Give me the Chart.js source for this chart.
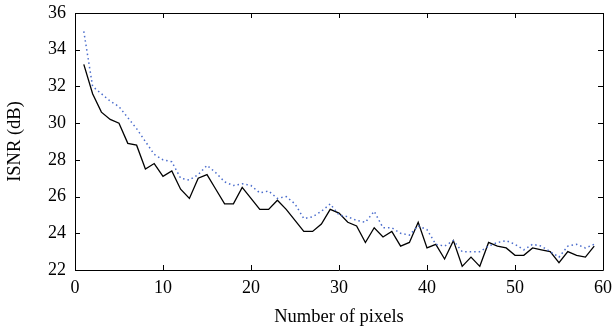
<!DOCTYPE html>
<html><head><meta charset="utf-8">
<script src="https://cdn.jsdelivr.net/npm/chart.js@4/dist/chart.umd.min.js"></script>
<style>html,body{margin:0;padding:0;background:#fff;}canvas{display:block;}</style>
</head><body>
<canvas id="c" width="616" height="332"></canvas>
<script>
const xValues = [1,2,3,4,5,6,7,8,9,10,11,12,13,14,15,16,17,18,19,20,21,22,23,24,25,26,27,28,29,30,31,32,33,34,35,36,37,38,39,40,41,42,43,44,45,46,47,48,49,50,51,52,53,54,55,56,57,58,59];
const solidSeries = [33.2,31.6,30.6,30.2,30.0,28.9,28.8,27.5,27.8,27.1,27.4,26.4,25.9,27.0,27.2,26.4,25.6,25.6,26.5,25.9,25.3,25.3,25.8,25.3,24.7,24.1,24.1,24.5,25.3,25.1,24.6,24.4,23.5,24.3,23.8,24.1,23.3,23.5,24.6,23.2,23.4,22.6,23.6,22.2,22.7,22.2,23.5,23.3,23.2,22.8,22.8,23.2,23.1,23.0,22.4,23.0,22.8,22.7,23.3];
const dottedSeries = [35.0,32.0,31.6,31.2,30.9,30.3,29.7,29.0,28.3,28.0,27.9,27.0,26.9,27.2,27.7,27.3,26.8,26.6,26.7,26.6,26.2,26.3,25.9,26.0,25.6,24.8,24.9,25.2,25.6,25.0,24.9,24.7,24.6,25.2,24.3,24.3,24.0,23.9,24.4,24.2,23.4,23.3,23.6,23.0,23.0,23.0,23.3,23.5,23.6,23.4,23.1,23.4,23.3,23.0,22.7,23.3,23.4,23.2,23.4];
const xTicks = [0,10,20,30,40,50,60];
const yTicks = [22,24,26,28,30,32,34,36];
const xTitle = "Number of pixels";
const yTitle = "ISNR (dB)";

const FONT = "'Liberation Serif', 'DejaVu Serif', serif";

const boxTicks = {
  id: 'boxTicks',
  afterDraw(chart) {
    const {ctx, chartArea: a, scales: {x, y}} = chart;
    ctx.save();
    ctx.strokeStyle = '#000';
    ctx.lineWidth = 1;
    ctx.beginPath();
    ctx.rect(Math.round(a.left)+0.5, Math.round(a.top)+0.5, Math.round(a.right-a.left), Math.round(a.bottom-a.top));
    ctx.stroke();
    const L = 5;
    ctx.beginPath();
    xTicks.forEach(v => {
      const px = Math.round(x.getPixelForValue(v)) + 0.5;
      ctx.moveTo(px, a.bottom); ctx.lineTo(px, a.bottom - L);
      ctx.moveTo(px, a.top); ctx.lineTo(px, a.top + L);
    });
    yTicks.forEach(v => {
      const py = Math.round(y.getPixelForValue(v)) + 0.5;
      ctx.moveTo(a.left, py); ctx.lineTo(a.left + L, py);
      ctx.moveTo(a.right, py); ctx.lineTo(a.right - L, py);
    });
    ctx.stroke();
    ctx.restore();
  }
};

new Chart(document.getElementById('c'), {
  type: 'line',
  data: {
    datasets: [
      {
        data: xValues.map((v, i) => ({x: v, y: dottedSeries[i]})),
        borderColor: '#4a6ccc',
        borderWidth: 1.5,
        borderDash: [1.5, 3],
        pointRadius: 0,
        tension: 0,
        fill: false
      },
      {
        data: xValues.map((v, i) => ({x: v, y: solidSeries[i]})),
        borderColor: '#000',
        borderWidth: 1.3,
        pointRadius: 0,
        tension: 0,
        fill: false
      }
    ]
  },
  options: {
    responsive: false,
    animation: false,
    devicePixelRatio: 1,
    layout: {padding: {top: 13, right: 13, left: 0, bottom: 0}},
    plugins: {legend: {display: false}, tooltip: {enabled: false}},
    scales: {
      x: {
        type: 'linear', min: 0, max: 60,
        afterBuildTicks: s => { s.ticks = xTicks.map(v => ({value: v})); },
        afterFit: s => { s.height = 62; s.paddingLeft = 0; s.paddingRight = 0; },
        grid: {display: false, drawTicks: false},
        border: {display: false},
        ticks: {color: '#000', font: {family: FONT, size: 18}, padding: 7, maxRotation: 0},
        title: {display: true, text: xTitle, color: '#000', font: {family: FONT, size: 18.5}, padding: {top: 3}}
      },
      y: {
        type: 'linear', min: 22, max: 36,
        afterBuildTicks: s => { s.ticks = yTicks.map(v => ({value: v})); },
        afterFit: s => { s.width = 75; s.paddingTop = 0; s.paddingBottom = 0; },
        grid: {display: false, drawTicks: false},
        border: {display: false},
        ticks: {color: '#000', font: {family: FONT, size: 18}, padding: 9},
        title: {display: true, text: yTitle, color: '#000', font: {family: FONT, size: 18.5}, padding: {bottom: 2}}
      }
    }
  },
  plugins: [boxTicks]
});
</script>
</body></html>
